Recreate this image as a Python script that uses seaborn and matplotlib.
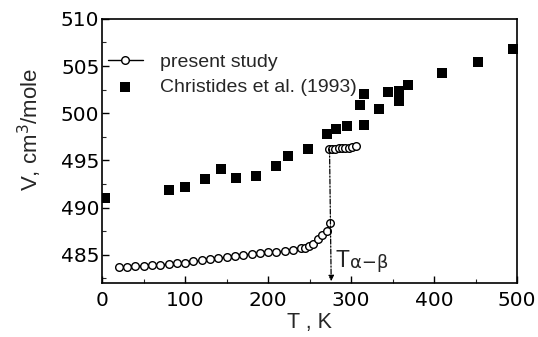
import matplotlib
matplotlib.use("Agg")
import matplotlib.pyplot as plt
from matplotlib.ticker import MultipleLocator
import seaborn as sns
import pandas as pd

# Molar volume vs temperature: present study (alpha and beta branches)
T_alpha = [20, 30, 40, 50, 60, 70, 80, 90, 100, 110, 120, 130, 140, 150, 160,
           170, 180, 190, 200, 210, 220, 230, 240, 244.6, 249.4, 254.6, 259.8,
           265.5, 270.7, 274.7]
V_alpha = [483.70, 483.70, 483.77, 483.80, 483.87, 483.95, 483.98, 484.08,
           484.16, 484.30, 484.40, 484.50, 484.65, 484.75, 484.86, 485.00,
           485.07, 485.17, 485.28, 485.30, 485.40, 485.50, 485.67, 485.74,
           485.88, 486.16, 486.65, 487.10, 487.56, 488.33]
T_beta = [273, 277, 281, 285, 289, 293, 297, 301, 306]
V_beta = [496.20, 496.25, 496.25, 496.30, 496.30, 496.30, 496.35, 496.40, 496.55]

# Christides et al. (1993)
T_chr = [3, 80, 100, 124, 143, 161, 185.5, 210, 224.5, 248.5, 271.5, 282,
         295.5, 311, 315.7, 315.7, 333.7, 344, 358, 358, 369, 410, 452.6, 495.5]
V_chr = [491.0, 491.9, 492.2, 493.0, 494.05, 493.1, 493.4, 494.4, 495.45,
         496.25, 497.8, 498.3, 498.6, 500.9, 502.0, 498.8, 500.5, 502.2,
         502.4, 501.3, 503.0, 504.3, 505.45, 506.85]

# Transition marker
T_trans = [274, 276]
V_trans = [496.2, 482.2]

sns.set_theme(style="ticks")
plt.rcParams["font.family"] = ["Liberation Sans", "DejaVu Sans"]

fig = plt.figure(figsize=(5.38, 3.37), dpi=100)
ax = fig.add_axes([0.19, 0.16, 0.771, 0.784])

df_a = pd.DataFrame({"T": T_alpha, "V": V_alpha})
df_b = pd.DataFrame({"T": T_beta, "V": V_beta})
df_c = pd.DataFrame({"T": T_chr, "V": V_chr})

line_kw = dict(color="black", linewidth=1.0, marker="o", markersize=5.5,
               markerfacecolor="white", markeredgecolor="black",
               markeredgewidth=1.0)
sns.lineplot(data=df_a, x="T", y="V", ax=ax, label="present study",
             sort=True, **line_kw)
sns.lineplot(data=df_b, x="T", y="V", ax=ax, sort=True, **line_kw)
sns.scatterplot(data=df_c, x="T", y="V", ax=ax, marker="s", s=48,
                color="black", edgecolor="black", linewidth=0,
                label="Christides et al. (1993)", zorder=3)

# dash-dot arrow marking the alpha-beta transition
ax.annotate("", xy=(T_trans[1], V_trans[1]), xytext=(T_trans[0], V_trans[0]),
            arrowprops=dict(arrowstyle="-|>", color="black", lw=0.9,
                            linestyle=(0, (4, 1.5, 1, 1.5)),
                            mutation_scale=8, shrinkA=0, shrinkB=0))
ax.text(281, 484.4, "T", fontsize=16.5, ha="left", va="center")
ax.text(298.5, 484.1, "α−β", fontsize=13, ha="left", va="center",
        family=["DejaVu Sans"])

ax.set_xlim(0, 500)
ax.set_ylim(482, 510)
ax.xaxis.set_major_locator(MultipleLocator(100))
ax.xaxis.set_minor_locator(MultipleLocator(50))
ax.yaxis.set_major_locator(MultipleLocator(5))
ax.yaxis.set_minor_locator(MultipleLocator(2.5))
ax.tick_params(axis="both", which="major", direction="in", length=5,
               width=1, labelsize=14.5, colors="black")
ax.tick_params(axis="x", which="major", pad=6)
ax.tick_params(axis="y", which="major", pad=2)
ax.tick_params(axis="both", which="minor", direction="in", length=3, width=0.8)
for lab in ax.get_xticklabels() + ax.get_yticklabels():
    lab.set_family(["DejaVu Sans"])
for s in ax.spines.values():
    s.set_linewidth(1.2)
    s.set_color("black")

ax.set_xlabel("T , K", fontsize=15.5, labelpad=1)
ax.set_ylabel("V, cm$^3$/mole", fontsize=16)
ax.yaxis.set_label_coords(-0.14, 0.58)

ax.legend(loc="upper left", bbox_to_anchor=(-0.005, 0.899), frameon=False,
          fontsize=14, handlelength=1.8, handletextpad=0.9,
          labelspacing=0.38, borderaxespad=0)

fig.savefig("out.png", dpi=100)
